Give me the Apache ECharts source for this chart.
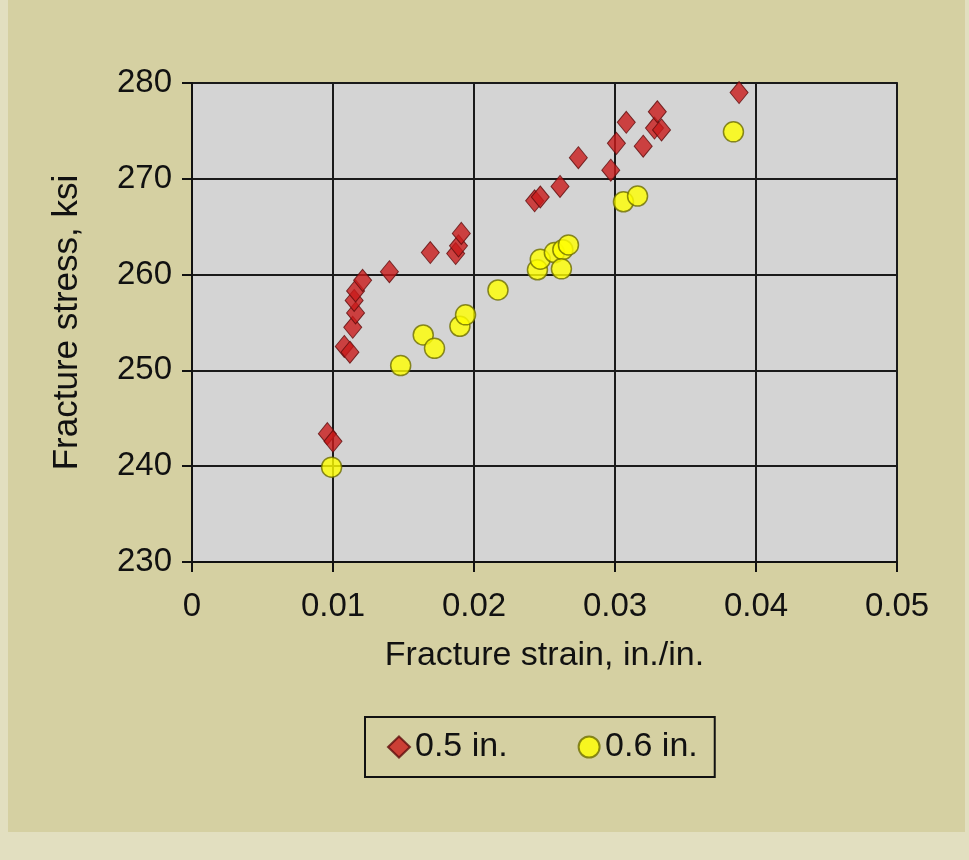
<!DOCTYPE html>
<html>
<head>
<meta charset="utf-8">
<script src="https://cdn.jsdelivr.net/npm/echarts@6/dist/echarts.min.js"></script>
<style>
html,body{margin:0;padding:0;background:#E2DFC0;}
#chart{width:969px;height:860px;}
</style>
</head>
<body>
<div id="chart"></div>
<script>
var seriesNames = ['0.5 in.', '0.6 in.'];
var strain05 = [0.0096,0.0100,0.0108,0.0112,0.0114,0.0116,0.0115,0.0116,0.0121,0.0140,0.0169,0.0187,0.0189,0.0191,0.0243,0.0247,0.0261,0.0274,0.0297,0.0301,0.0308,0.0320,0.0328,0.0330,0.0333,0.0388];
var stress05 = [243.4,242.6,252.5,251.9,254.5,256.0,257.3,258.3,259.4,260.3,262.3,262.2,263.0,264.3,267.7,268.1,269.2,272.2,270.9,273.7,275.9,273.4,275.3,277.0,275.1,279.0];
var strain06 = [0.0099,0.0148,0.0164,0.0172,0.0190,0.0194,0.0217,0.0245,0.0247,0.0257,0.0263,0.0267,0.0262,0.0306,0.0316,0.0384];
var stress06 = [239.9,250.5,253.7,252.3,254.6,255.8,258.4,260.5,261.6,262.3,262.6,263.1,260.6,267.6,268.2,274.9];
var xTicks = [0, 0.01, 0.02, 0.03, 0.04, 0.05];
var yTicks = [230, 240, 250, 260, 270, 280];
var xTitle = 'Fracture strain, in./in.';
var yTitle = 'Fracture stress, ksi';

function pairs(xs, ys){ return xs.map(function(x,i){ return [x, ys[i]]; }); }

var FONT = 'Liberation Sans, Arial, sans-serif';
var chart = echarts.init(document.getElementById('chart'), null, {renderer:'canvas'});
chart.setOption({
  backgroundColor: '#E2DFC0',
  animation: false,
  graphic: [{
    type: 'rect', silent: true, z: -10,
    shape: {x: 8, y: 0, width: 957, height: 832},
    style: {fill: '#D5D0A2'}
  }],
  grid: {
    left: 192, right: 72, top: 83, bottom: 298,
    show: true, backgroundColor: '#D4D4D4', borderColor: '#333', borderWidth: 2
  },
  xAxis: {
    type: 'value', min: xTicks[0], max: xTicks[xTicks.length-1], interval: 0.01,
    name: xTitle, nameLocation: 'middle', nameGap: 77,
    nameTextStyle: {fontFamily: FONT, fontSize: 34, color: '#111'},
    axisLine: {show: true, lineStyle: {color: '#111', width: 2}},
    axisTick: {show: true, inside: false, length: 10, lineStyle: {color: '#111', width: 2}},
    axisLabel: {fontFamily: FONT, fontSize: 33, color: '#111', margin: 28,
      formatter: function(v){ return String(+v.toFixed(2)); }},
    splitLine: {show: true, lineStyle: {color: '#1a1a1a', width: 2}}
  },
  yAxis: {
    type: 'value', min: yTicks[0], max: yTicks[yTicks.length-1], interval: 10,
    name: yTitle, nameLocation: 'middle', nameGap: 107, nameRotate: 90,
    nameTextStyle: {fontFamily: FONT, fontSize: 35, color: '#111'},
    axisLine: {show: true, lineStyle: {color: '#111', width: 2}},
    axisTick: {show: true, inside: false, length: 10, lineStyle: {color: '#111', width: 2}},
    axisLabel: {fontFamily: FONT, fontSize: 33, color: '#111', margin: 20},
    splitLine: {show: true, lineStyle: {color: '#1a1a1a', width: 2}}
  },
  legend: {
    left: 365, top: 717,
    padding: [13, 17, 13, 22],
    itemGap: 70, itemWidth: 22, itemHeight: 21,
    borderColor: '#111', borderWidth: 2, backgroundColor: '#D5D0A2',
    textStyle: {fontFamily: FONT, fontSize: 34, color: '#111'},
    data: [
      {name: seriesNames[0], icon: 'diamond'},
      {name: seriesNames[1], icon: 'circle'}
    ]
  },
  series: [
    {
      name: seriesNames[0], type: 'scatter', symbol: 'diamond', symbolSize: [18, 22],
      itemStyle: {color: '#C81A1A', borderColor: '#5E0C0C', borderWidth: 1},
      data: pairs(strain05, stress05), z: 3
    },
    {
      name: seriesNames[1], type: 'scatter', symbol: 'circle', symbolSize: 20,
      itemStyle: {color: '#FFFF00', borderColor: '#6E6E00', borderWidth: 1.5},
      data: pairs(strain06, stress06), z: 2
    }
  ]
});
</script>
</body>
</html>
